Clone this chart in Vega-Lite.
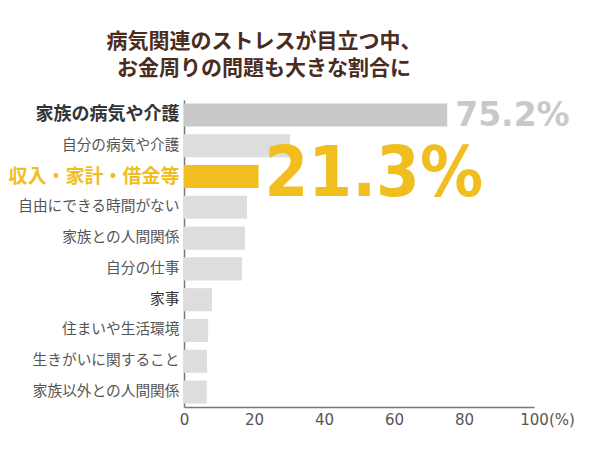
{
  "$schema": "https://vega.github.io/schema/vega-lite/v6.json",
  "width": 350,
  "height": 307,
  "autosize": {"type": "none"},
  "padding": {"left": 184, "top": 100, "right": 66, "bottom": 43},
  "background": "white",
  "config": {"view": {"stroke": null}},
  "title": {
    "text": ["病気関連のストレスが目立つ中、", "お金周りの問題も大きな割合に"],
    "font": "Noto Sans CJK JP",
    "fontSize": 21,
    "fontWeight": "bold",
    "color": "#4a2c1e",
    "lineHeight": 27,
    "anchor": "middle",
    "frame": "group",
    "dx": -95,
    "offset": 21
  },
  "data": {
    "values": [
      {"item": "家族の病気や介護", "value": 75.2},
      {"item": "自分の病気や介護", "value": 30.3},
      {"item": "収入・家計・借金等", "value": 21.3},
      {"item": "自由にできる時間がない", "value": 18.0},
      {"item": "家族との人間関係", "value": 17.4},
      {"item": "自分の仕事", "value": 16.6},
      {"item": "家事", "value": 8.0},
      {"item": "住まいや生活環境", "value": 6.9},
      {"item": "生きがいに関すること", "value": 6.6},
      {"item": "家族以外との人間関係", "value": 6.5}
    ]
  },
  "encoding": {
    "y": {
      "field": "item",
      "type": "nominal",
      "sort": null,
      "scale": {"paddingInner": 0.25, "paddingOuter": 0.11},
      "axis": {
        "title": null,
        "ticks": false,
        "domainColor": "#777777",
        "domainWidth": 1.5,
        "labelPadding": 5,
        "labelFont": "Noto Sans CJK JP",
        "labelLimit": 300,
        "labelFontSize": {
          "condition": [
            {"test": "datum.value == '収入・家計・借金等'", "value": 19},
            {"test": "datum.value == '家族の病気や介護'", "value": 18}
          ],
          "value": 14.7
        },
        "labelFontWeight": {
          "condition": {"test": "datum.value == '家族の病気や介護' || datum.value == '収入・家計・借金等'", "value": "bold"},
          "value": "normal"
        },
        "labelColor": {
          "condition": [
            {"test": "datum.value == '収入・家計・借金等'", "value": "#f0bf1f"},
            {"test": "datum.value == '家族の病気や介護' || datum.value == '家事'", "value": "#333333"}
          ],
          "value": "#555555"
        }
      }
    }
  },
  "layer": [
    {
      "mark": {"type": "bar"},
      "encoding": {
        "x": {
          "field": "value",
          "type": "quantitative",
          "scale": {"domain": [0, 100]},
          "axis": {
            "title": null,
            "values": [0, 20, 40, 60, 80, 100],
            "grid": false,
            "ticks": false,
            "domainColor": "#777777",
            "domainWidth": 1.5,
            "labelPadding": 5,
            "labelFont": "DejaVu Sans",
            "labelFontSize": 15,
            "labelColor": "#555555",
            "labelFlush": false
          }
        },
        "color": {
          "condition": [
            {"test": "datum.item == '収入・家計・借金等'", "value": "#f0bf1f"},
            {"test": "datum.item == '家族の病気や介護'", "value": "#c9c9c9"}
          ],
          "value": "#dddddd"
        }
      }
    },
    {
      "transform": [{"filter": "datum.item == '家族の病気や介護'"}],
      "mark": {"type": "text", "align": "left", "baseline": "middle", "dx": 8, "dy": 1, "font": "DejaVu Sans", "fontWeight": "bold", "fontSize": 33, "color": "#c9c9c9"},
      "encoding": {
        "x": {"field": "value", "type": "quantitative"},
        "text": {"value": "75.2%"}
      }
    },
    {
      "transform": [{"filter": "datum.item == '収入・家計・借金等'"}],
      "mark": {"type": "text", "align": "left", "baseline": "middle", "dx": 6, "dy": -2, "font": "DejaVu Sans Condensed", "fontWeight": "bold", "fontSize": 70, "color": "#f0bf1f"},
      "encoding": {
        "x": {"field": "value", "type": "quantitative"},
        "text": {"value": "21.3%"}
      }
    },
    {
      "transform": [{"filter": "datum.item == '家族以外との人間関係'"}],
      "mark": {"type": "text", "align": "left", "baseline": "middle", "dx": 15, "dy": 28, "font": "DejaVu Sans", "fontSize": 15, "color": "#555555"},
      "encoding": {
        "x": {"datum": 100},
        "text": {"value": "(%)"}
      }
    }
  ]
}
